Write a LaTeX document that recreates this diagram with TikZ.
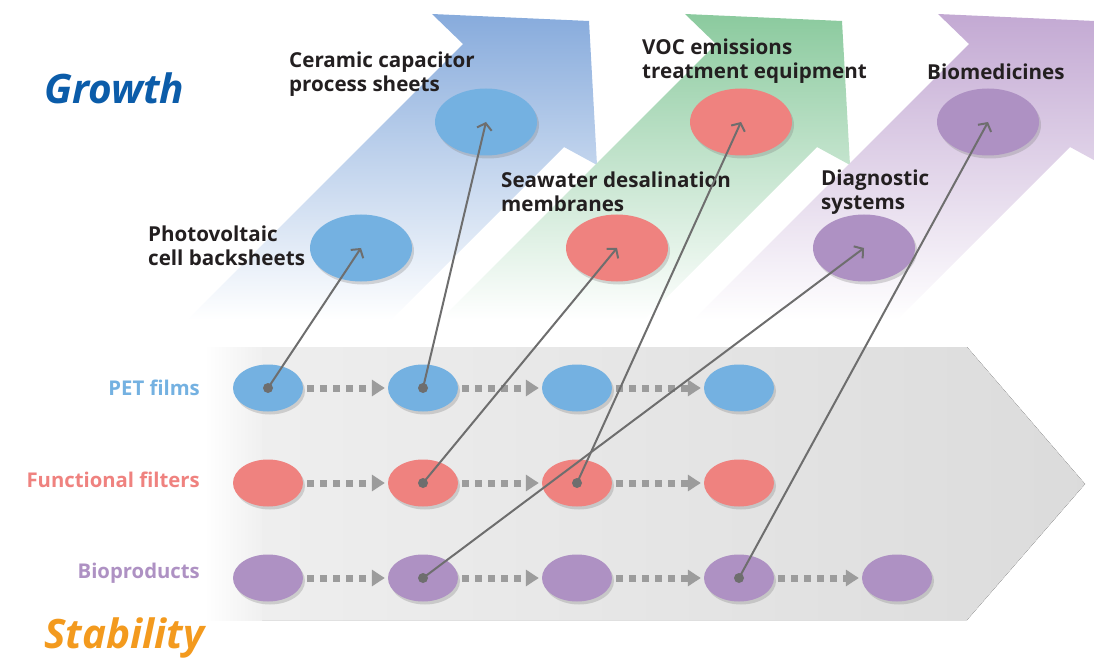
\documentclass[tikz,border=0pt]{standalone}
\usepackage{fontspec}
\setmainfont{Open Sans}
\usetikzlibrary{arrows.meta,shapes.geometric,shadows}
\definecolor{growthblue}{HTML}{0B5CA9}
\definecolor{stableorange}{HTML}{F39A1E}
\definecolor{petblue}{HTML}{74B1E1}
\definecolor{filtred}{HTML}{EF827F}
\definecolor{bioviolet}{HTML}{AE91C3}
\definecolor{arrblue}{HTML}{87ABDC}
\definecolor{arrgreen}{HTML}{8BCA9E}
\definecolor{arrviolet}{HTML}{C3A9D3}
\definecolor{linkgray}{HTML}{6E6E6E}
\definecolor{stepgray}{HTML}{9C9C9C}
\definecolor{labeltext}{HTML}{231F20}
\tikzset{
  blob/.style={ellipse,inner sep=0pt,draw=none,
    drop shadow={opacity=.3,shadow xshift=2pt,shadow yshift=-3pt}},
  small/.style={blob,minimum width=70pt,minimum height=47pt},
  big/.style={blob,minimum width=102pt,minimum height=67pt},
  app/.style={font=\fontsize{20.6}{24}\selectfont\bfseries,text=labeltext,
    align=left,anchor=west,inner sep=0pt},
  rowlabel/.style={font=\fontsize{20.3}{24}\selectfont\bfseries,anchor=east,inner sep=0pt},
  title/.style={font=\fontsize{40.5}{44}\selectfont\bfseries\itshape,anchor=west,inner sep=0pt},
  progress/.style={stepgray,line width=7pt,dash pattern=on 7pt off 6pt,
    -{Triangle[length=13pt,width=16pt]}},
  link/.style={linkgray,line width=2pt,-{Straight Barb[length=6pt,width=15pt,line width=2pt]}},
  growarrow/.style={top color=#1,bottom color=white,draw=none}
}
\begin{document}
\begin{tikzpicture}[x=1pt,y=-1pt]
\useasboundingbox (0,0) rectangle (1094,660);
\foreach \dx/\col in {0/arrblue,253/arrgreen,506/arrviolet}
  \path[growarrow=\col] (432+\dx,14) -- (589+\dx,21) -- (597+\dx,165) -- (564+\dx,147)
    -- (391+\dx,320) -- (187+\dx,320) -- (463+\dx,44) -- cycle;
\fill[left color=black!6,right color=black!14] (205,347) -- (967,347) -- (1085,484)
  -- (967,620) -- (205,620) -- cycle;
\fill[left color=white,right color=black!6] (205,347) rectangle (262,620);

\node[title,text=growthblue] (growth) at (44,88) {Growth};
\node[title,text=stableorange] (stability) at (44,638) {Stability};

\node[rowlabel,text=petblue] (petlabel) at (200,388) {PET films};
\node[rowlabel,text=filtred] (fillabel) at (200,480) {Functional filters};
\node[rowlabel,text=bioviolet] (biolabel) at (200,573) {Bioproducts};

\foreach \i/\x in {1/268,2/423,3/577,4/739} {
  \node[small,fill=petblue] (pet\i) at (\x,388) {};
  \node[small,fill=filtred] (fil\i) at (\x,483) {};
  \node[small,fill=bioviolet] (bio\i) at (\x,578) {};
}
\node[small,fill=bioviolet] (bio5) at (897,578) {};

\foreach \row in {pet,fil,bio}
  \foreach \i/\j in {1/2,2/3,3/4}
    \draw[progress] ([xshift=4pt]\row\i.east) -- ([xshift=-3pt]\row\j.west);
\draw[progress] ([xshift=4pt]bio4.east) -- ([xshift=-3pt]bio5.west);

\node[big,fill=petblue] (pv) at (361,248) {};
\node[big,fill=petblue] (cer) at (486,122) {};
\node[big,fill=filtred] (sea) at (617,248) {};
\node[big,fill=filtred] (voc) at (741,122) {};
\node[big,fill=bioviolet] (diag) at (864,248) {};
\node[big,fill=bioviolet] (biomed) at (988,122) {};

\node[app] (pvtext) at (148,246) {Photovoltaic\\cell backsheets};
\node[app] (certext) at (289,74) {Ceramic capacitor\\process sheets};
\node[app] (seatext) at (501,192) {Seawater desalination\\membranes};
\node[app] (voctext) at (642,61) {VOC emissions\\treatment equipment};
\node[app] (diagtext) at (821,192) {Diagnostic\\systems};
\node[app] (biomedtext) at (927,72) {Biomedicines};

\foreach \from/\to in {pet1/pv,pet2/cer,fil2/sea,fil3/voc,bio2/diag,bio4/biomed} {
  \fill[linkgray] (\from.center) circle (5pt);
  \draw[link] (\from.center) -- (\to.center);
}
\end{tikzpicture}
\end{document}
